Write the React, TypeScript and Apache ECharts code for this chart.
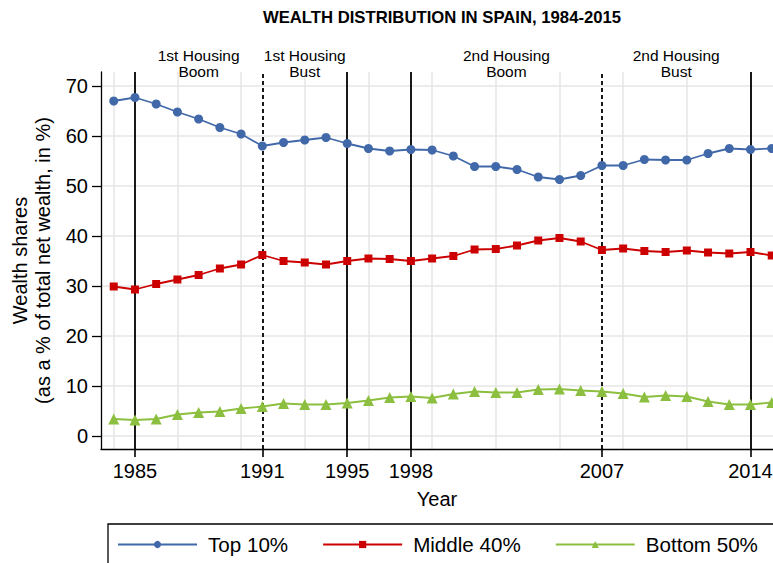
import React, { useEffect, useRef } from "react";
import * as echarts from "echarts";

const YEARS = [1984, 1985, 1986, 1987, 1988, 1989, 1990, 1991, 1992, 1993, 1994, 1995, 1996, 1997, 1998, 1999, 2000, 2001, 2002, 2003, 2004, 2005, 2006, 2007, 2008, 2009, 2010, 2011, 2012, 2013, 2014, 2015];
const TOP10 = [67.0, 67.7, 66.4, 64.8, 63.4, 61.7, 60.4, 58.0, 58.7, 59.2, 59.7, 58.5, 57.5, 57.0, 57.3, 57.2, 56.0, 53.9, 53.9, 53.3, 51.8, 51.3, 52.1, 54.1, 54.1, 55.3, 55.2, 55.2, 56.5, 57.5, 57.3, 57.5];
const MIDDLE40 = [29.9, 29.3, 30.4, 31.3, 32.2, 33.5, 34.3, 36.2, 35.0, 34.7, 34.3, 35.0, 35.5, 35.4, 35.0, 35.5, 36.0, 37.3, 37.4, 38.1, 39.1, 39.6, 38.9, 37.2, 37.5, 37.0, 36.8, 37.1, 36.7, 36.5, 36.8, 36.1];
const BOTTOM50 = [3.4, 3.2, 3.4, 4.3, 4.7, 4.9, 5.5, 5.9, 6.5, 6.3, 6.3, 6.6, 7.1, 7.7, 7.9, 7.6, 8.4, 8.9, 8.7, 8.7, 9.3, 9.4, 9.1, 8.9, 8.5, 7.8, 8.1, 7.9, 6.9, 6.3, 6.3, 6.7];

const SERIES_NAMES = ["Top 10%", "Middle 40%", "Bottom 50%"];
const X_TICK_LABELS = [1985, 1991, 1995, 1998, 2007, 2014];
const X_GRID_YEARS = [1984, 1987, 1990, 1993, 1996, 1999, 2002, 2005, 2008, 2011, 2014];
const Y_TICKS = [0, 10, 20, 30, 40, 50, 60, 70];
const SOLID_EVENTS = [1985, 1995, 1998, 2014];
const DASHED_EVENTS = [1991, 2007];
const PHASE_STARTS = [1985, 1991, 1998, 2007];
const PHASE_ENDS = [1991, 1995, 2007, 2014];
const PHASE_LABELS = ["1st Housing\nBoom", "1st Housing\nBust", "2nd Housing\nBoom", "2nd Housing\nBust"];
const TITLE = "WEALTH DISTRIBUTION IN SPAIN, 1984-2015";

const FONT = "'Liberation Sans', Arial, Helvetica, sans-serif";

export default function App() {
  const ref = useRef<HTMLDivElement>(null);
  useEffect(() => {
    if (!ref.current) return;
    const chart = echarts.init(ref.current, null, { renderer: "svg" });
    const pair = (vals: number[]) => YEARS.map((y, i) => [y, vals[i]]);
    const markLineData = [
      ...SOLID_EVENTS.map((y) => ({ xAxis: y, lineStyle: { type: "solid" } })),
      ...DASHED_EVENTS.map((y) => ({ xAxis: y, lineStyle: { type: [4, 3] } })),
    ];
    const markAreaData = PHASE_STARTS.map((s, i) => [
      { xAxis: s, name: PHASE_LABELS[i] },
      { xAxis: PHASE_ENDS[i] },
    ]);
    const option: any = {
      animation: false,
      backgroundColor: "#fff",
      textStyle: { fontFamily: FONT },
      graphic: [
        {
          type: "text",
          x: 442,
          y: 17,
          style: {
            text: TITLE,
            fontSize: 16.7,
            fontWeight: "bold",
            fontFamily: FONT,
            fill: "#000",
            align: "center",
            verticalAlign: "middle",
          },
        },
      ],
      grid: { left: 101, right: 0, top: 72, bottom: 114, outerBoundsMode: "none", containLabel: false },
      legend: {
        data: SERIES_NAMES,
        left: 108,
        top: 524,
        width: 700,
        orient: "horizontal",
        itemWidth: 79,
        itemHeight: 9,
        itemGap: 34,
        padding: [10, 20, 20, 9],
        borderColor: "#000",
        borderWidth: 1.3,
        borderRadius: 0,
        textStyle: { fontSize: 20.6, color: "#000", fontFamily: FONT, padding: [0, 0, 0, 6] },
      },
      xAxis: [
        {
          type: "value",
          min: 1983.4,
          max: 2015.06,
          name: "Year",
          nameLocation: "middle",
          nameGap: 40,
          nameTextStyle: { fontSize: 20, color: "#000", fontFamily: FONT },
          axisLine: { show: true, onZero: false, lineStyle: { color: "#000", width: 1.3 } },
          axisTick: { show: true, length: 8, customValues: X_TICK_LABELS, lineStyle: { color: "#000", width: 1.6 } },
          axisLabel: {
            customValues: X_TICK_LABELS,
            formatter: (v: number) => String(v),
            fontSize: 20,
            color: "#000",
            margin: 12,
            fontFamily: FONT,
          },
          splitLine: { show: false },
        },
        {
          type: "value",
          min: 1983.4,
          max: 2015.06,
          position: "top",
          axisLine: { show: false },
          axisTick: { show: false, customValues: X_GRID_YEARS },
          axisLabel: { show: false, customValues: X_GRID_YEARS },
          splitLine: { show: true, lineStyle: { color: "#e6e6e6", width: 1.5 } },
        },
      ],
      yAxis: {
        type: "value",
        min: -2.6,
        max: 72.8,
        name: "Wealth shares\n(as a % of total net wealth, in %)",
        nameLocation: "middle",
        nameGap: 45,
        nameTextStyle: { fontSize: 20, color: "#000", lineHeight: 23, fontFamily: FONT },
        axisLine: { show: true, onZero: false, lineStyle: { color: "#000", width: 1.3 } },
        axisTick: { show: true, length: 9, customValues: Y_TICKS, lineStyle: { color: "#000", width: 1.3 } },
        axisLabel: { customValues: Y_TICKS, fontSize: 20, color: "#000", margin: 13, fontFamily: FONT },
        splitLine: { show: true, lineStyle: { color: "#e6e6e6", width: 1.5 } },
      },
      series: [
        {
          name: SERIES_NAMES[0],
          type: "line",
          data: pair(TOP10),
          symbol: "circle",
          symbolSize: 9,
          lineStyle: { color: "#4169a9", width: 1.8 },
          itemStyle: { color: "#4169a9" },
          z: 4,
          silent: true,
          emphasis: { disabled: true },
          markLine: {
            silent: true,
            symbol: "none",
            z: 1,
            label: { show: false },
            lineStyle: { color: "#000", width: 1.8 },
            data: markLineData,
          },
          markArea: {
            silent: true,
            z: 0,
            itemStyle: { color: "rgba(0,0,0,0)" },
            label: {
              show: true,
              position: "top",
              distance: -7,
              color: "#000",
              fontSize: 15.5,
              lineHeight: 16,
              fontFamily: FONT,
              align: "center",
            },
            data: markAreaData,
          },
        },
        {
          name: SERIES_NAMES[1],
          type: "line",
          data: pair(MIDDLE40),
          symbol: "rect",
          symbolSize: 8,
          lineStyle: { color: "#cc0000", width: 1.8 },
          itemStyle: { color: "#cc0000" },
          z: 4,
          silent: true,
          emphasis: { disabled: true },
        },
        {
          name: SERIES_NAMES[2],
          type: "line",
          data: pair(BOTTOM50),
          symbol: "triangle",
          symbolSize: 11,
          lineStyle: { color: "#8cbf3f", width: 1.8 },
          itemStyle: { color: "#8cbf3f" },
          z: 4,
          silent: true,
          emphasis: { disabled: true },
        },
      ],
    };
    chart.setOption(option);
    return () => chart.dispose();
  }, []);
  return (
    <div
      ref={ref}
      style={{ position: "fixed", left: 0, top: 0, width: 773, height: 563, background: "#fff" }}
    />
  );
}
